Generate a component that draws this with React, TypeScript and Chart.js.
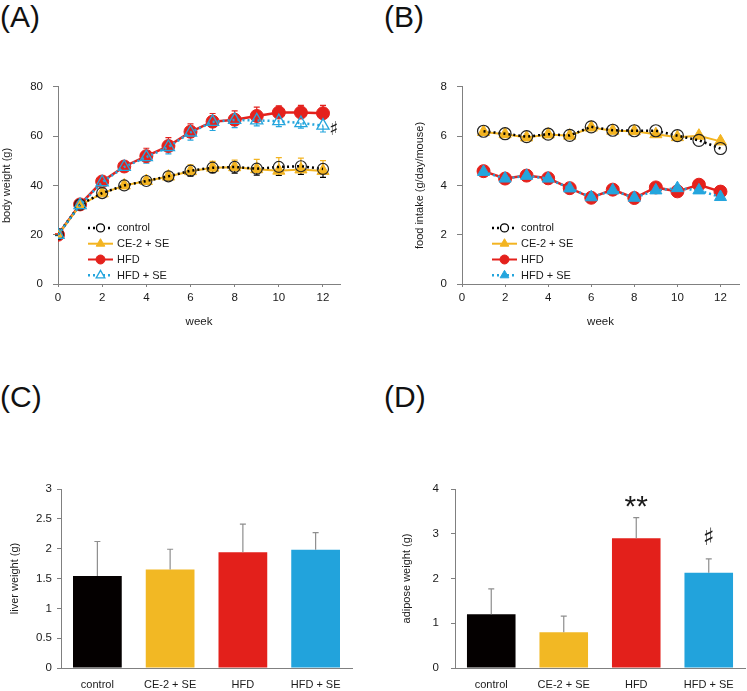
import React, { useEffect, useRef } from 'react';
import { Chart, registerables } from 'chart.js';

Chart.register(...registerables);

const FONT = "'Liberation Sans', Arial, Helvetica, sans-serif";
const TEXT = '#1a1a1a';
const AXIS = '#808080';

// ---------- Data ----------
const seriesNames = ['control', 'CE-2 + SE', 'HFD', 'HFD + SE'];

// (A) body weight
const weeksA = [0, 1, 2, 3, 4, 5, 6, 7, 8, 9, 10, 11, 12];
const bwControl = [20.2, 32.2, 36.9, 40.0, 41.8, 43.7, 46.0, 47.2, 47.5, 46.8, 47.5, 47.8, 46.7];
const bwCE2 = [20.0, 32.0, 36.8, 40.0, 41.8, 43.6, 45.8, 47.2, 47.4, 46.6, 46.0, 46.5, 45.9];
const bwHFD = [20.0, 32.3, 41.6, 47.7, 51.9, 56.0, 61.8, 65.9, 66.7, 68.2, 69.6, 69.6, 69.3];
const bwHFDSE = [20.0, 32.0, 41.3, 47.5, 51.5, 55.6, 61.5, 65.8, 66.6, 66.4, 66.1, 65.3, 64.3];
const bwControlErr = [0.3, 0.6, 0.8, 1.0, 1.3, 1.5, 2.2, 2.0, 2.5, 2.6, 3.4, 3.3, 3.4];
const bwCE2Err = [0.3, 0.6, 0.8, 1.0, 1.2, 1.5, 2.6, 2.6, 2.9, 4.0, 5.3, 4.6, 4.2];
const bwHFDErr = [0.4, 0.8, 1.0, 1.8, 3.2, 3.4, 3.2, 3.3, 3.6, 3.6, 2.7, 2.9, 3.2];
const bwHFDSEErr = [0.4, 0.8, 1.0, 1.6, 2.4, 2.8, 3.1, 3.5, 3.1, 2.2, 2.2, 2.0, 2.6];

// (B) food intake
const weeksB = [1, 2, 3, 4, 5, 6, 7, 8, 9, 10, 11, 12];
const fiControl = [6.2, 6.1, 5.98, 6.08, 6.03, 6.38, 6.24, 6.22, 6.22, 6.02, 5.83, 5.5];
const fiCE2 = [6.17, 6.08, 5.95, 6.07, 6.02, 6.35, 6.22, 6.2, 6.08, 5.96, 6.02, 5.79];
const fiHFD = [4.58, 4.28, 4.4, 4.29, 3.89, 3.5, 3.83, 3.49, 3.92, 3.76, 4.03, 3.75];
const fiHFDSE = [4.55, 4.28, 4.39, 4.28, 3.88, 3.52, 3.8, 3.5, 3.8, 3.89, 3.8, 3.53];

const weekTicks = [0, 2, 4, 6, 8, 10, 12];

// (C) liver weight
const liver = [1.54, 1.65, 1.94, 1.98];
const liverErr = [0.58, 0.34, 0.47, 0.29];

// (D) adipose weight
const adipose = [1.2, 0.8, 2.9, 2.13];
const adiposeErr = [0.57, 0.36, 0.46, 0.31];

// significance marks (data coordinates)
const marksA = [{ x: 12.48, y: 63.2, text: '\u266F' }];
const marksD = [
  { x: 2, y: 3.71, text: '**' },
  { x: 3, y: 2.96, text: '\u266F' },
];

// ---------- Colours ----------
const C_BLACK = '#000000';
const C_ORANGE = '#F3B421';
const C_RED = '#E4211C';
const C_BLUE = '#24A5DD';
const barColors = ['#040000', '#F2B824', '#E3201B', '#22A3DC'];

// ---------- Plugins ----------
function drawMarker(ctx: CanvasRenderingContext2D, style: string, x: number, y: number, r: number, fill: string, stroke: string, bw: number) {
  ctx.beginPath();
  if (style === 'triangle') {
    let rad = 0;
    ctx.moveTo(x + Math.sin(rad) * r, y - Math.cos(rad) * r);
    rad += (2 * Math.PI) / 3;
    ctx.lineTo(x + Math.sin(rad) * r, y - Math.cos(rad) * r);
    rad += (2 * Math.PI) / 3;
    ctx.lineTo(x + Math.sin(rad) * r, y - Math.cos(rad) * r);
    ctx.closePath();
  } else {
    ctx.arc(x, y, r, 0, Math.PI * 2);
  }
  if (fill && fill !== 'transparent') {
    ctx.fillStyle = fill;
    ctx.fill();
  }
  ctx.setLineDash([]);
  ctx.lineWidth = bw;
  ctx.strokeStyle = stroke;
  ctx.stroke();
}

function drawErrBars(chart: any, after: boolean) {
  const ctx = chart.ctx;
  const ys = chart.scales.y;
  chart.data.datasets.forEach((ds: any, di: number) => {
    const e = ds.errBars;
    if (!e || !!e.after !== after) return;
    const meta = chart.getDatasetMeta(di);
    meta.data.forEach((el: any, i: number) => {
      const raw = ds.data[i];
      const val = typeof raw === 'number' ? raw : raw.y;
      const x = el.x;
      const y0 = ys.getPixelForValue(val);
      ctx.save();
      ctx.strokeStyle = e.color;
      ctx.lineWidth = e.width;
      ctx.setLineDash([]);
      const one = (d: number) => {
        const y1 = ys.getPixelForValue(val + d);
        ctx.beginPath();
        ctx.moveTo(x, y0);
        ctx.lineTo(x, y1);
        ctx.moveTo(x - e.cap, y1);
        ctx.lineTo(x + e.cap, y1);
        ctx.stroke();
      };
      if (e.up) one(e.up[i]);
      if (e.down) one(-e.down[i]);
      ctx.restore();
    });
  });
}

const errPlugin = {
  id: 'errBars',
  beforeDatasetsDraw(chart: any) {
    drawErrBars(chart, false);
  },
  afterDatasetsDraw(chart: any) {
    drawErrBars(chart, true);
  },
};

const legendPlugin = {
  id: 'insideLegend',
  afterDraw(chart: any, _args: any, opts: any) {
    if (!opts || !opts.items) return;
    const ctx = chart.ctx;
    const { left, top } = chart.chartArea;
    opts.items.forEach((it: any, k: number) => {
      const y = top + opts.dy + k * opts.rowH;
      const x0 = left + opts.dx;
      ctx.save();
      ctx.beginPath();
      ctx.setLineDash(it.dash || []);
      ctx.strokeStyle = it.color;
      ctx.lineWidth = it.lineWidth;
      ctx.moveTo(x0, y);
      ctx.lineTo(x0 + opts.len, y);
      ctx.stroke();
      drawMarker(ctx, it.pointStyle, x0 + opts.len / 2, y, it.radius, it.fill, it.color, it.borderWidth);
      ctx.fillStyle = TEXT;
      ctx.font = `${opts.fontSize}px ${FONT}`;
      ctx.textBaseline = 'middle';
      ctx.textAlign = 'left';
      ctx.fillText(it.label, x0 + opts.len + 4, y + 0.5);
      ctx.restore();
    });
  },
};

const marksPlugin = {
  id: 'marks',
  afterDraw(chart: any, _args: any, opts: any) {
    if (!opts || !opts.items) return;
    const ctx = chart.ctx;
    opts.items.forEach((m: any) => {
      const px = chart.scales.x.getPixelForValue(m.x);
      const py = chart.scales.y.getPixelForValue(m.y);
      ctx.save();
      ctx.font = m.font;
      ctx.fillStyle = TEXT;
      ctx.textAlign = 'center';
      ctx.textBaseline = 'alphabetic';
      const mt = ctx.measureText(m.text);
      const asc = mt.actualBoundingBoxAscent || 0;
      const desc = mt.actualBoundingBoxDescent || 0;
      ctx.fillText(m.text, px, py + (asc - desc) / 2);
      ctx.restore();
    });
  },
};

// ---------- Chart box ----------
function ChartBox({ left, top, width, height, config }: any) {
  const ref = useRef<HTMLCanvasElement | null>(null);
  useEffect(() => {
    if (!ref.current) return;
    const chart = new Chart(ref.current, config);
    return () => chart.destroy();
  }, []);
  return (
    <canvas
      ref={ref}
      width={width}
      height={height}
      style={{ position: 'absolute', left, top, width, height }}
    />
  );
}

const tickFont = (size: number) => ({ family: FONT, size });
const plainNum = (v: any) => `${+v}`;

function lineConfig(opts: any) {
  const { datasets, yMax, yStep, xMax, yTitle, padding, yWidth, xHeight, legendItems, marks } = opts;
  return {
    type: 'line',
    data: { datasets },
    plugins: [errPlugin, legendPlugin, marksPlugin],
    options: {
      animation: false,
      responsive: false,
      maintainAspectRatio: false,
      devicePixelRatio: 1,
      layout: { padding },
      plugins: {
        legend: { display: false },
        tooltip: { enabled: false },
        insideLegend: { items: legendItems, dx: 30, dy: 141, rowH: 15.8, len: 25, fontSize: 11 },
        marks: { items: marks },
      },
      scales: {
        x: {
          type: 'linear',
          min: 0,
          max: xMax,
          afterBuildTicks: (s: any) => {
            s.ticks = weekTicks.map((v) => ({ value: v }));
          },
          afterFit: (s: any) => {
            s.height = xHeight;
          },
          grid: { display: true, drawOnChartArea: false, drawTicks: true, tickLength: 3, color: AXIS },
          border: { display: true, color: AXIS, width: 1 },
          ticks: { color: TEXT, font: tickFont(11.5), padding: 4, maxRotation: 0, callback: plainNum },
          title: { display: true, text: 'week', color: TEXT, font: tickFont(11.5), padding: { top: 0, bottom: 1 } },
        },
        y: {
          min: 0,
          max: yMax,
          ticks: { stepSize: yStep, color: TEXT, font: tickFont(11.5), padding: 10, callback: plainNum },
          afterFit: (s: any) => {
            s.width = yWidth;
          },
          grid: { display: true, drawOnChartArea: false, drawTicks: true, tickLength: 5, color: AXIS },
          border: { display: true, color: AXIS, width: 1 },
          title: { display: true, text: yTitle, color: TEXT, font: tickFont(11), padding: { top: 0, bottom: 0 } },
        },
      },
    },
  };
}

function pts(xs: number[], ys: number[]) {
  return xs.map((x, i) => ({ x, y: ys[i] }));
}

function barConfig(opts: any) {
  const { values, errs, yMax, yStep, yTitle, padding, yWidth, tickPad, marks } = opts;
  return {
    type: 'bar',
    data: {
      labels: seriesNames,
      datasets: [
        {
          data: values,
          backgroundColor: barColors,
          borderWidth: 0,
          barPercentage: 0.67,
          categoryPercentage: 1,
          errBars: { up: errs, color: '#8e8e8e', width: 1.2, cap: 3, after: true },
        },
      ],
    },
    plugins: [errPlugin, marksPlugin],
    options: {
      animation: false,
      responsive: false,
      maintainAspectRatio: false,
      devicePixelRatio: 1,
      layout: { padding },
      plugins: {
        legend: { display: false },
        tooltip: { enabled: false },
        marks: { items: marks },
      },
      scales: {
        x: {
          afterFit: (s: any) => {
            s.height = 23;
          },
          grid: { display: false, drawTicks: false },
          border: { display: true, color: AXIS, width: 1 },
          ticks: { color: TEXT, font: tickFont(11), padding: 10, maxRotation: 0 },
        },
        y: {
          min: 0,
          max: yMax,
          ticks: { stepSize: yStep, color: TEXT, font: tickFont(11.5), padding: tickPad, callback: plainNum },
          afterFit: (s: any) => {
            s.width = yWidth;
          },
          grid: { display: true, drawOnChartArea: false, drawTicks: true, tickLength: 4, color: AXIS },
          border: { display: true, color: AXIS, width: 1 },
          title: { display: true, text: yTitle, color: TEXT, font: tickFont(11), padding: { top: 0, bottom: 0 } },
        },
      },
    },
  };
}

const dotted = [2, 3];

const configA = lineConfig({
  yMax: 80,
  yStep: 20,
  xMax: 12.77,
  yTitle: 'body weight (g)',
  padding: { left: 0, top: 14, right: 33, bottom: 0 },
  yWidth: 58,
  xHeight: 46,
  marks: marksA.map((m) => ({ ...m, font: `19px 'DejaVu Sans', sans-serif` })),
  legendItems: [
    { label: seriesNames[0], color: C_BLACK, dash: dotted, lineWidth: 2.5, pointStyle: 'circle', radius: 4, fill: '#ffffff', borderWidth: 1.3 },
    { label: seriesNames[1], color: C_ORANGE, dash: [], lineWidth: 2, pointStyle: 'triangle', radius: 5, fill: C_ORANGE, borderWidth: 1 },
    { label: seriesNames[2], color: C_RED, dash: [], lineWidth: 2, pointStyle: 'circle', radius: 4.5, fill: C_RED, borderWidth: 1 },
    { label: seriesNames[3], color: C_BLUE, dash: dotted, lineWidth: 2.5, pointStyle: 'triangle', radius: 5, fill: '#ffffff', borderWidth: 1.3 },
  ],
  datasets: [
    {
      label: seriesNames[3], data: pts(weeksA, bwHFDSE), order: 0,
      borderColor: C_BLUE, borderWidth: 2.5, borderDash: dotted, pointStyle: 'triangle', pointRadius: 7,
      pointBackgroundColor: 'transparent', pointBorderColor: C_BLUE, pointBorderWidth: 1.3, tension: 0,
      errBars: { down: bwHFDSEErr, color: C_BLUE, width: 1.2, cap: 3 },
    },
    {
      label: seriesNames[0], data: pts(weeksA, bwControl), order: 1,
      borderColor: C_BLACK, borderWidth: 2.5, borderDash: dotted, pointStyle: 'circle', pointRadius: 5.5,
      pointBackgroundColor: 'transparent', pointBorderColor: '#222', pointBorderWidth: 1.2, tension: 0,
      errBars: { down: bwControlErr, color: C_BLACK, width: 1.2, cap: 3 },
    },
    {
      label: seriesNames[1], data: pts(weeksA, bwCE2), order: 2,
      borderColor: C_ORANGE, borderWidth: 2, pointStyle: 'triangle', pointRadius: 7,
      pointBackgroundColor: C_ORANGE, pointBorderColor: C_ORANGE, pointBorderWidth: 1, tension: 0,
      errBars: { up: bwCE2Err, color: C_ORANGE, width: 1.2, cap: 3 },
    },
    {
      label: seriesNames[2], data: pts(weeksA, bwHFD), order: 3,
      borderColor: C_RED, borderWidth: 2.5, pointStyle: 'circle', pointRadius: 6.5,
      pointBackgroundColor: C_RED, pointBorderColor: C_RED, pointBorderWidth: 1, tension: 0,
      errBars: { up: bwHFDErr, color: C_RED, width: 1.2, cap: 3 },
    },
  ],
});

const configB = lineConfig({
  yMax: 8,
  yStep: 2,
  xMax: 12.86,
  yTitle: 'food intake (g/day/mouse)',
  padding: { left: 40, top: 14, right: 2, bottom: 0 },
  yWidth: 49,
  xHeight: 46,
  marks: [],
  legendItems: [
    { label: seriesNames[0], color: C_BLACK, dash: dotted, lineWidth: 2.5, pointStyle: 'circle', radius: 4, fill: '#ffffff', borderWidth: 1.3 },
    { label: seriesNames[1], color: C_ORANGE, dash: [], lineWidth: 2, pointStyle: 'triangle', radius: 5, fill: C_ORANGE, borderWidth: 1 },
    { label: seriesNames[2], color: C_RED, dash: [], lineWidth: 2, pointStyle: 'circle', radius: 4.5, fill: C_RED, borderWidth: 1 },
    { label: seriesNames[3], color: C_BLUE, dash: dotted, lineWidth: 2.5, pointStyle: 'triangle', radius: 5, fill: C_BLUE, borderWidth: 1 },
  ],
  datasets: [
    {
      label: seriesNames[3], data: pts(weeksB, fiHFDSE), order: 0,
      borderColor: C_BLUE, borderWidth: 2.5, borderDash: dotted, pointStyle: 'triangle', pointRadius: 7,
      pointBackgroundColor: C_BLUE, pointBorderColor: C_BLUE, pointBorderWidth: 1, tension: 0,
    },
    {
      label: seriesNames[0], data: pts(weeksB, fiControl), order: 1,
      borderColor: C_BLACK, borderWidth: 2.5, borderDash: dotted, pointStyle: 'circle', pointRadius: 6,
      pointBackgroundColor: 'transparent', pointBorderColor: '#222', pointBorderWidth: 1.2, tension: 0,
    },
    {
      label: seriesNames[1], data: pts(weeksB, fiCE2), order: 2,
      borderColor: C_ORANGE, borderWidth: 2, pointStyle: 'triangle', pointRadius: 7,
      pointBackgroundColor: C_ORANGE, pointBorderColor: C_ORANGE, pointBorderWidth: 1, tension: 0,
    },
    {
      label: seriesNames[2], data: pts(weeksB, fiHFD), order: 3,
      borderColor: C_RED, borderWidth: 2.5, pointStyle: 'circle', pointRadius: 6.5,
      pointBackgroundColor: C_RED, pointBorderColor: C_RED, pointBorderWidth: 1, tension: 0,
    },
  ],
});

const configC = barConfig({
  values: liver,
  errs: liverErr,
  yMax: 3,
  yStep: 0.5,
  yTitle: 'liver weight (g)',
  padding: { left: 8, top: 19, right: 21, bottom: 0 },
  yWidth: 53,
  tickPad: 5,
  marks: [],
});

const configD = barConfig({
  values: adipose,
  errs: adiposeErr,
  yMax: 4,
  yStep: 1,
  yTitle: 'adipose weight (g)',
  padding: { left: 27, top: 19, right: 2, bottom: 0 },
  yWidth: 55,
  tickPad: 12,
  marks: marksD.map((m) => ({
    ...m,
    font: m.text === '**' ? `30px ${FONT}` : `24px 'DejaVu Sans', sans-serif`,
  })),
});

const panelLabel = (text: string, left: number, top: number) => (
  <div
    style={{
      position: 'absolute',
      left,
      top,
      fontFamily: FONT,
      fontSize: 30,
      lineHeight: '30px',
      color: '#111',
      whiteSpace: 'nowrap',
    }}
  >
    {text}
  </div>
);

export default function App() {
  return (
    <div
      style={{
        position: 'fixed',
        left: 0,
        top: 0,
        width: 747,
        height: 691,
        background: '#ffffff',
        overflow: 'hidden',
      }}
    >
      {panelLabel('(A)', 0, 2)}
      {panelLabel('(B)', 384, 2)}
      {panelLabel('(C)', 0, 382)}
      {panelLabel('(D)', 384, 382)}
      <ChartBox left={0} top={70} width={373} height={260} config={configA} />
      <ChartBox left={373} top={70} width={374} height={260} config={configB} />
      <ChartBox left={0} top={470} width={373} height={221} config={configC} />
      <ChartBox left={373} top={470} width={374} height={221} config={configD} />
    </div>
  );
}
